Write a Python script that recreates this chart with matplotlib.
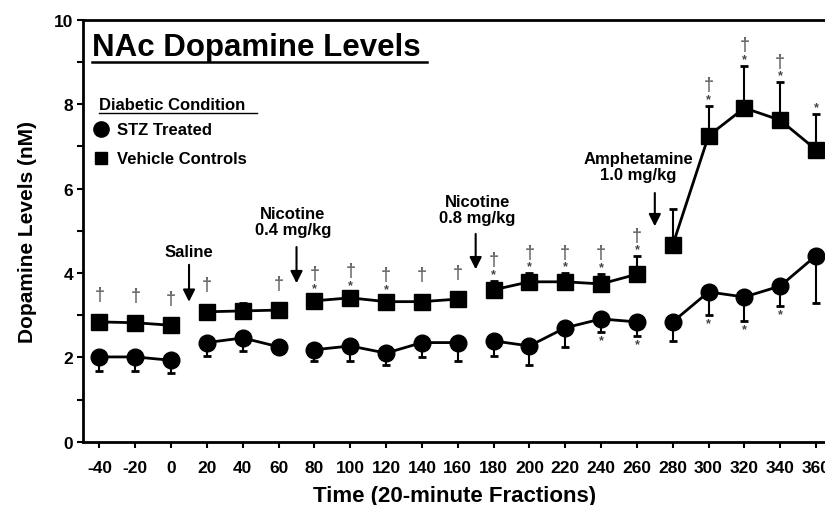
import numpy as np
import matplotlib.pyplot as plt

plt.rcParams['font.family'] = ['Liberation Sans', 'DejaVu Sans']
plt.rcParams['font.weight'] = 'bold'
plt.rcParams['axes.labelweight'] = 'bold'
plt.rcParams['axes.unicode_minus'] = False

# Data
time = [-40, -20, 0, 20, 40, 60, 80, 100, 120, 140, 160,
        180, 200, 220, 240, 260, 280, 300, 320, 340, 360]
stz = [2.01, 2.01, 1.93, 2.35, 2.46, 2.25, 2.18, 2.27, 2.10, 2.35, 2.35,
       2.39, 2.27, 2.70, 2.91, 2.84, 2.84, 3.55, 3.43, 3.69, 4.41]
stz_err = [0.33, 0.33, 0.30, 0.31, 0.30, 0.05, 0.26, 0.35, 0.29, 0.34, 0.43,
           0.36, 0.45, 0.45, 0.30, 0.33, 0.45, 0.54, 0.57, 0.47, 1.12]
veh = [2.84, 2.82, 2.76, 3.08, 3.10, 3.12, 3.34, 3.41, 3.32, 3.32, 3.38,
       3.60, 3.79, 3.79, 3.74, 3.97, 4.66, 7.25, 7.91, 7.62, 6.92]
veh_err = [0.05, 0.05, 0.08, 0.05, 0.18, 0.05, 0.10, 0.12, 0.10, 0.06, 0.06,
           0.22, 0.20, 0.20, 0.24, 0.42, 0.86, 0.71, 1.00, 0.90, 0.85]
segments = [(-40, 0), (20, 60), (80, 160), (180, 260), (280, 360)]

# significance marks
dagger_veh = [-40, -20, 0, 20, 60, 80, 100, 120, 140, 160,
              180, 200, 220, 240, 260, 300, 320, 340]
star_veh = [80, 100, 120, 180, 200, 220, 240, 260, 300, 320, 340, 360]
star_stz = [240, 260, 300, 320, 340]

# (arrow x, label, label x, label y, arrow start, arrow tip)
injections = [(10, 'Saline', 10, 4.52, 4.26, 3.25),
              (70, 'Nicotine\n0.4 mg/kg', 68, 5.22, 4.68, 3.69),
              (170, 'Nicotine\n0.8 mg/kg', 171, 5.5, 4.99, 4.02),
              (270, 'Amphetamine\n1.0 mg/kg', 261, 6.53, 5.96, 5.04)]

fig = plt.figure(figsize=(8.25, 5.06), dpi=100)
ax = fig.add_axes([0.101, 0.125, 0.899, 0.834])

t = np.array(time)
for lo, hi in segments:
    m = (t >= lo) & (t <= hi)
    ax.plot(t[m], np.array(veh)[m], color='black', lw=2, marker='s', ms=11, zorder=3)
    ax.plot(t[m], np.array(stz)[m], color='black', lw=2, marker='o', ms=12, zorder=3)

ax.errorbar(time, veh, yerr=[np.zeros(len(veh)), veh_err], fmt='none',
            ecolor='black', elinewidth=1.5, capsize=3, capthick=2, zorder=2)
ax.errorbar(time, stz, yerr=[stz_err, np.zeros(len(stz))], fmt='none',
            ecolor='black', elinewidth=1.5, capsize=3, capthick=2, zorder=2)

for x, y, e in zip(time, veh, veh_err):
    top = y + max(e, 0.14)
    if x in star_veh:
        ax.text(x, top + 0.02, '*', ha='center', va='bottom', fontsize=9, color='#444444')
    if x in dagger_veh:
        ax.text(x, top + 0.3, '†', ha='center', va='bottom', fontsize=13, color='#666666')
for x, y, e in zip(time, stz, stz_err):
    if x in star_stz:
        ax.text(x, y - e - 0.05, '*', ha='center', va='top', fontsize=9, color='#444444')

for x, label, tx, ty, y0, y1 in injections:
    ax.annotate('', xy=(x, y1), xytext=(x, y0),
                arrowprops=dict(arrowstyle='-|>', color='black', lw=1.5, mutation_scale=18))
    ax.text(tx, ty, label, ha='center', va='center', fontsize=12, linespacing=1.1)

ax.text(-44, 9.35, 'NAc Dopamine Levels', fontsize=22.5, ha='left', va='center')
ax.plot([-44, 143], [9.0, 9.0], color='black', lw=1.8)
ax.text(-40, 8.0, 'Diabetic Condition', fontsize=12, ha='left', va='center')
ax.plot([-40, 48], [7.78, 7.78], color='black', lw=1)
ax.plot([-39], [7.4], marker='o', ms=11, color='black')
ax.text(-30, 7.4, 'STZ Treated', fontsize=12, ha='left', va='center')
ax.plot([-39], [6.72], marker='s', ms=9, color='black')
ax.text(-30, 6.72, 'Vehicle Controls', fontsize=12, ha='left', va='center')

ax.set_xlim(-49, 365)
ax.set_ylim(0, 10)
ax.set_xticks(time)
ax.set_yticks([0, 2, 4, 6, 8, 10])
ax.set_yticks([1, 3, 5, 7, 9], minor=True)
ax.tick_params(labelsize=12.5, width=1.5, length=4)
ax.tick_params(axis='x', pad=9)
ax.tick_params(which='minor', width=1.5, length=4)
ax.spines['right'].set_visible(False)
for s in ['left', 'bottom', 'top']:
    ax.spines[s].set_linewidth(2)
ax.set_xlabel('Time (20-minute Fractions)', fontsize=16, labelpad=7)
ax.set_ylabel('Dopamine Levels (nM)', fontsize=15, labelpad=12)

fig.savefig('out.png', dpi=100)
